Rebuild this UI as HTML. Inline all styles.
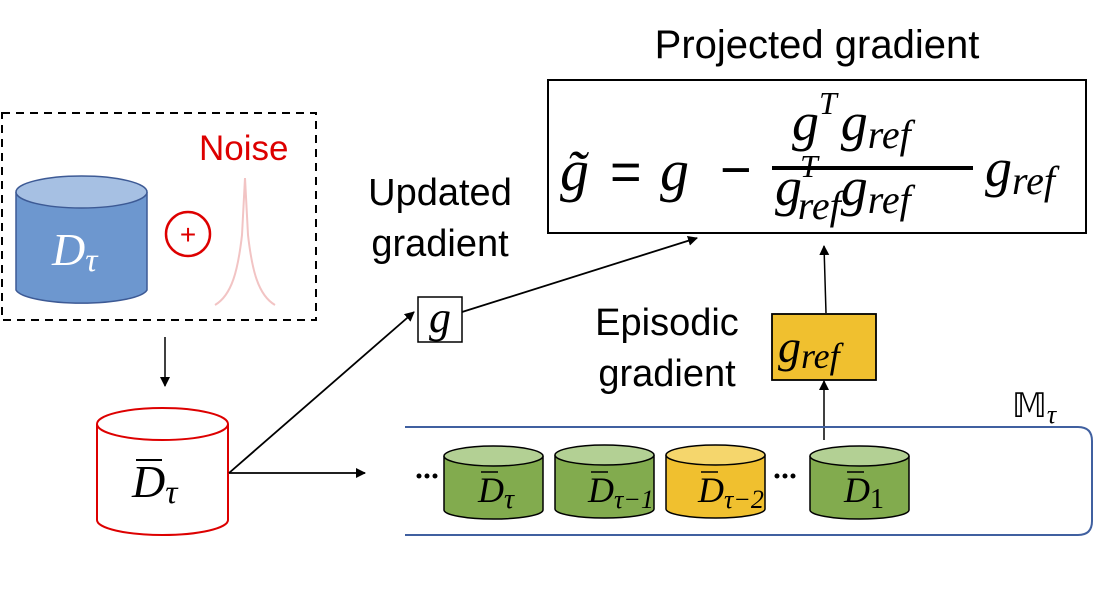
<!DOCTYPE html>
<html><head><meta charset="utf-8"><style>
html,body{margin:0;padding:0;background:#fff;}
svg{display:block}
text{font-family:"Liberation Sans",sans-serif}
.m{font-family:"Liberation Serif","DejaVu Serif",serif;font-style:italic}
</style></head><body>
<svg width="1097" height="600" viewBox="0 0 1097 600" xmlns="http://www.w3.org/2000/svg">
<defs>
<marker id="ah" markerWidth="10" markerHeight="10" refX="9" refY="5" orient="auto" markerUnits="userSpaceOnUse">
<path d="M0,0 L10,5 L0,10 z" fill="#000"/></marker>
</defs>
<rect x="2" y="113" width="314" height="207" fill="none" stroke="#000" stroke-width="2" stroke-dasharray="8,6"/>
<path d="M16,192 L16,290 A66,15 0 0 0 147,290 L147,192" fill="#6d97cf" stroke="#3d5a95" stroke-width="1.5"/>
<ellipse cx="81.5" cy="192" rx="65.5" ry="16" fill="#a6c0e3" stroke="#3d5a95" stroke-width="1.5"/>
<text x="52" y="265" class="m" font-size="46" fill="#fff">D<tspan font-size="34" dy="6">τ</tspan></text>
<text x="199" y="160" font-size="35" fill="#d00">Noise</text>
<circle cx="188" cy="234" r="22" fill="none" stroke="#d00" stroke-width="2.5"/>
<text x="188" y="244" font-size="28" fill="#d00" text-anchor="middle">+</text>
<path d="M215,305 C232,295 238,270 242,235 L245,178 L248,235 C252,270 258,295 275,305" fill="none" stroke="#f2c4c4" stroke-width="2"/>
<line x1="165" y1="337" x2="165" y2="386" stroke="#000" stroke-width="1.5" marker-end="url(#ah)"/>
<path d="M97,424 L97,520 A65.5,15 0 0 0 228,520 L228,424" fill="#fff" stroke="#d00" stroke-width="2"/>
<ellipse cx="162.5" cy="424" rx="65.5" ry="16" fill="#fff" stroke="#d00" stroke-width="2"/>
<line x1="136" y1="460" x2="162" y2="460" stroke="#000" stroke-width="2"/>
<text x="132" y="497" class="m" font-size="46">D<tspan font-size="34" dy="6">τ</tspan></text>
<line x1="229" y1="473" x2="414" y2="312" stroke="#000" stroke-width="1.8" marker-end="url(#ah)"/>
<line x1="229" y1="473" x2="365" y2="473" stroke="#000" stroke-width="1.8" marker-end="url(#ah)"/>
<text x="440" y="205" font-size="38" text-anchor="middle">Updated</text>
<text x="440" y="256" font-size="38" text-anchor="middle">gradient</text>
<rect x="418" y="297" width="44" height="45" fill="#fff" stroke="#000" stroke-width="1.5"/>
<text x="440" y="332" class="m" font-size="44" text-anchor="middle">g</text>
<line x1="462" y1="312" x2="697" y2="238" stroke="#000" stroke-width="1.8" marker-end="url(#ah)"/>
<text x="817" y="58" font-size="40" text-anchor="middle">Projected gradient</text>
<rect x="548" y="80" width="538" height="153" fill="#fff" stroke="#000" stroke-width="2"/>
<text x="560" y="190" class="m" font-size="58">g̃</text>
<text x="610" y="190" font-size="54">=</text>
<text x="660" y="190" class="m" font-size="58">g</text>
<text x="720" y="188" font-size="54">−</text>
<line x1="772" y1="168" x2="973" y2="168" stroke="#000" stroke-width="4"/>
<text x="792" y="140" class="m" font-size="54">g<tspan font-size="32" dy="-26">T</tspan><tspan dy="26" dx="4" font-size="54">g</tspan><tspan font-size="40" dy="8">ref</tspan></text>
<text x="775" y="205" class="m" font-size="54">g<tspan font-size="32" dx="-2" dy="-28">T</tspan><tspan font-size="40" dx="-20" dy="42">ref</tspan><tspan font-size="54" dy="-14">g</tspan><tspan font-size="40" dy="8">ref</tspan></text>
<text x="985" y="186" class="m" font-size="54">g<tspan font-size="40" dy="8">ref</tspan></text>
<text x="667" y="335" font-size="38" text-anchor="middle">Episodic</text>
<text x="667" y="386" font-size="38" text-anchor="middle">gradient</text>
<rect x="772" y="314" width="104" height="66" fill="#f0c02f" stroke="#000" stroke-width="1.8"/>
<text x="778" y="362" class="m" font-size="46">g<tspan font-size="36" dy="6">ref</tspan></text>
<line x1="826" y1="313" x2="824" y2="246" stroke="#000" stroke-width="1.5" marker-end="url(#ah)"/>
<line x1="824" y1="440" x2="824" y2="381" stroke="#000" stroke-width="1.5" marker-end="url(#ah)"/>
<path d="M405,427 L1078,427 Q1092,427 1092,441 L1092,521 Q1092,535 1078,535 L405,535" fill="none" stroke="#4060a0" stroke-width="2"/>
<text x="1012" y="417" font-family="DejaVu Sans" font-size="34">𝕄<tspan class="m" font-size="26" dy="6">τ</tspan></text>
<g fill="#000">
<circle cx="419" cy="476" r="2.5"/><circle cx="427" cy="476" r="2.5"/><circle cx="435" cy="476" r="2.5"/>
<circle cx="777" cy="476" r="2.5"/><circle cx="785" cy="476" r="2.5"/><circle cx="793" cy="476" r="2.5"/>
</g>
<g stroke="#000" stroke-width="1.5">
<path d="M444,456 L444,510 A49.5,9 0 0 0 543,510 L543,456" fill="#82ab4e"/>
<ellipse cx="493.5" cy="456" rx="49.5" ry="10" fill="#b3d094"/>
<path d="M555,455 L555,509 A49.5,9 0 0 0 654,509 L654,455" fill="#82ab4e"/>
<ellipse cx="604.5" cy="455" rx="49.5" ry="10" fill="#b3d094"/>
<path d="M666,455 L666,509 A49.5,9 0 0 0 765,509 L765,455" fill="#f0c02f"/>
<ellipse cx="715.5" cy="455" rx="49.5" ry="10" fill="#f5d66c"/>
<path d="M810,456 L810,510 A49.5,9 0 0 0 909,510 L909,456" fill="#82ab4e"/>
<ellipse cx="859.5" cy="456" rx="49.5" ry="10" fill="#b3d094"/>
</g>
<g stroke="#000" stroke-width="1.5">
<line x1="481" y1="472" x2="498" y2="472"/><line x1="591" y1="472" x2="608" y2="472"/>
<line x1="701" y1="472" x2="718" y2="472"/><line x1="847" y1="472" x2="864" y2="472"/>
</g>
<text x="478" y="502" class="m" font-size="36">D<tspan font-size="28" dy="6">τ</tspan></text>
<text x="588" y="502" class="m" font-size="36">D<tspan font-size="26" dy="6">τ−1</tspan></text>
<text x="698" y="502" class="m" font-size="36">D<tspan font-size="26" dy="6">τ−2</tspan></text>
<text x="844" y="502" class="m" font-size="36">D<tspan font-size="28" dy="6" font-style="normal">1</tspan></text>
</svg>
</body></html>
